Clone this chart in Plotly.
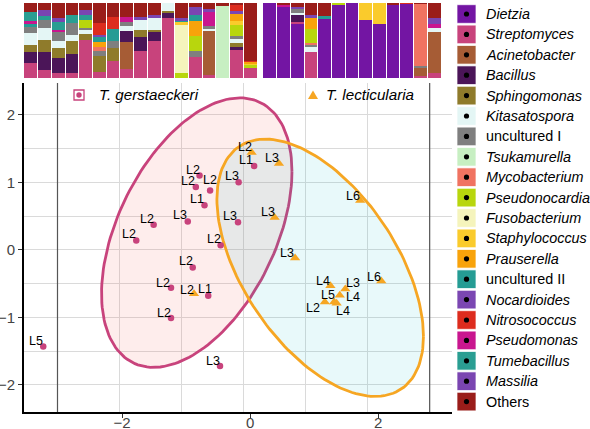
import numpy as np
import plotly.graph_objects as go

W, H = 590, 429
FONT = "Liberation Sans, Arial, Helvetica, sans-serif"

# ---------------- bar data (relative abundance, %) ----------------
GROUP1_SAMPLES = [f"G{i:02d}" for i in range(1, 18)]   # T. gerstaeckeri
GROUP2_SAMPLES = [f"L{i:02d}" for i in range(1, 14)]   # T. lecticularia
SAMPLES = GROUP1_SAMPLES + GROUP2_SAMPLES

TAXA = ["Dietzia", "Streptomyces", "Acinetobacter", "Bacillus", "Sphingomonas",
        "Kitasatospora", "uncultured I", "Tsukamurella", "Mycobacterium",
        "Pseudonocardia", "Fusobacterium", "Staphylococcus", "Prauserella",
        "uncultured II", "Nocardioides", "Nitrosococcus", "Pseudomonas",
        "Tumebacillus", "Massilia", "Others"]
TAXA_ITALIC = [True, True, True, True, True, True, False, True, True, True,
               True, True, True, False, True, True, True, True, True, False]
TAXA_COLORS = ["#7315A3", "#C8437C", "#A65C35", "#4B1558", "#8F7B2B",
               "#E4F6F5", "#7F7F7F", "#C7EFC2", "#F07361", "#B8D60D",
               "#F5F4BC", "#FACB2C", "#F8A30B", "#259C94", "#7B47B2",
               "#DD2C1E", "#C9168F", "#2A9E92", "#7A45B1", "#9A1D1A"]

# sample number (1..30) -> percentage
DIETZIA = {18: 100, 19: 95.5, 20: 72, 22: 79.6, 23: 98.5, 24: 100, 25: 77.8,
           26: 72.4, 27: 96.9, 28: 98.7}
STREPTOMYCES = {1: 19.6, 2: 10.7, 3: 6.2, 4: 7.1, 5: 50.7, 6: 8.4, 7: 22.7,
                8: 12.0, 9: 36.4, 10: 49.3, 11: 79.6, 13: 27.6, 14: 4.0,
                16: 37.3, 17: 13.8, 20: 1.8, 21: 35.1, 29: 2.7, 30: 7.1}
ACINETOBACTER = {8: 36.4, 14: 56.9, 29: 10.2, 30: 53.8}
BACILLUS = {1: 14.7, 2: 24.4, 3: 20.9, 4: 24.4, 8: 13.3, 9: 17.3, 10: 11.6,
            11: 7.6, 16: 3.6, 20: 10.2}
SPHINGOMONAS = {1: 9.8, 2: 14.7, 3: 12.4, 4: 17.8, 5: 8.0, 6: 20.9, 7: 16.9,
                9: 9.3, 10: 3.1, 11: 2.2, 16: 6.2}
KITASATOSPORA = {1: 15.6, 2: 16.4, 3: 8.9, 4: 7.1, 5: 6.2, 8: 7.6, 9: 13.3,
                 10: 15.6, 11: 10.2, 14: 3.6, 16: 4.4, 20: 2.2, 21: 6.7, 30: 5.3}
UNCULTURED_I = {1: 7.6, 2: 11.1, 3: 13.3, 4: 16.4, 5: 1.4, 6: 7.1, 7: 8.9,
                8: 4.4, 13: 7.6, 14: 3.1, 16: 3.6, 20: 5.3, 21: 2.2, 29: 3.6}
TSUKAMURELLA = {15: 95.1}
MYCOBACTERIUM = {6: 5.3, 21: 3.1, 29: 82.2}
PSEUDONOCARDIA = {5: 10.2, 12: 7.1, 13: 20.9, 16: 15.6, 17: 3.6, 21: 18.2, 23: 1.5}
FUSOBACTERIUM = {12: 63.6}
STAPHYLOCOCCUS = {12: 4.4, 16: 4.4, 17: 2.2, 25: 22.2, 26: 27.6}
PRAUSERELLA = {6: 6.7, 13: 19.1, 16: 10.2, 17: 1.8, 21: 14.2}
UNCULTURED_II = {1: 4.4, 6: 5.8, 7: 16.4, 12: 1.3, 13: 8.9, 22: 2.2}
NOCARDIOIDES = {6: 3.1, 16: 3.1, 20: 2.7, 21: 4.4}
NITROSOCOCCUS = {6: 15.6, 7: 16.0, 16: 8.0, 17: 1.3, 28: 1.3}
PSEUDOMONAS = {1: 3.6, 3: 2.2, 8: 7.1, 14: 19.1, 19: 1.8, 30: 5.8}
TUMEBACILLUS = {1: 12.0, 2: 4.4, 3: 10.2, 4: 11.1, 5: 6.7}
MASSILIA = {2: 8.0, 3: 5.3, 5: 7.6, 9: 4.4, 10: 3.6, 12: 3.6, 13: 10.2, 14: 3.1, 30: 7.6}
OTHERS = {1: 12.4, 2: 9.8, 3: 20.0, 4: 15.6, 5: 8.9, 6: 26.7, 7: 18.7, 8: 18.7,
          9: 18.7, 10: 16.4, 12: 20.0, 13: 5.3, 14: 8.0, 15: 4.4, 16: 3.1,
          17: 76.9, 19: 2.7, 20: 5.3, 21: 15.6, 22: 17.8, 27: 3.1, 29: 0.9, 30: 20.0}

TAXA_DATA = [DIETZIA, STREPTOMYCES, ACINETOBACTER, BACILLUS, SPHINGOMONAS,
             KITASATOSPORA, UNCULTURED_I, TSUKAMURELLA, MYCOBACTERIUM,
             PSEUDONOCARDIA, FUSOBACTERIUM, STAPHYLOCOCCUS, PRAUSERELLA,
             UNCULTURED_II, NOCARDIOIDES, NITROSOCOCCUS, PSEUDOMONAS,
             TUMEBACILLUS, MASSILIA, OTHERS]

# ---------------- ordination data ----------------
GER_X = [0.17, -0.71, -0.77, -0.54, -0.08, -0.63, -1.45, -0.90, -0.09, -1.73,
         -0.37, -0.82, -1.17, -0.57, -1.17, -3.23, -0.38]
GER_Y = [1.24, 1.10, 0.93, 0.88, 1.00, 0.66, 0.37, 0.42, 0.41, 0.14,
         0.07, -0.26, -0.56, -0.68, -1.01, -1.43, -1.72]
GER_LAB = ["L1", "L2", "L2", "L2", "L3", "L1", "L2", "L3", "L3", "L2",
           "L2", "L2", "L2", "L1", "L2", "L5", "L3"]

LEC_X = [0.13, 0.57, 0.50, 0.83, 1.88, 2.22, 1.40, 1.64, 1.55, 1.31, 1.46, 1.50, -0.80]
LEC_Y = [1.44, 1.28, 0.48, -0.12, 0.73, -0.46, -0.53, -0.58, -0.67, -0.77, -0.77, -0.79, -0.65]
LEC_LAB = ["L2", "L3", "L3", "L3", "L6", "L6", "L4", "L3", "L4", "L2", "L4", "L5", "L2"]

# x tick labels as they sit under the panel (slightly offset from the grid)
X_TICK_POS = [-1.96, 0.105, 2.17]
X_TICK_TEXT = ["\u22122", "0", "2"]

# 95% confidence ellipses: centre and shape matrix
GER_ELLIPSE_CENTER = [-0.755, 0.255]
GER_ELLIPSE_SHAPE = [[2.356, 1.387], [1.387, 3.980]]
LEC_ELLIPSE_CENTER = [1.235, -0.265]
LEC_ELLIPSE_SHAPE = [[2.772, -1.690], [-1.690, 3.629]]

# label offsets (screen px, + right / + down), repel-like placement
GER_OFF = [(-8, -6), (-7, -6), (-8, -6), (0, -10), (-7, -6), (-8, -6), (-7, -6),
           (-8, -6), (-8, -6), (-7, -6), (-7, -6), (-7, -6), (-8, -5), (-3, -7),
           (-7, -5), (-7, -5), (-7, -5)]
LEC_OFF = [(-7, -6), (-7, -5), (-7, -5), (-8, -5), (-7, -5), (-7, -4), (-7, -5),
           (8, -6), (13, 2), (-12, 6), (9, 9), (-9, -8), (-7, -4)]

PINK = "#C8437C"
ORANGE = "#F6A623"


def ellipse_path(center, shape, segments=160):
    ang = np.linspace(0, 2 * np.pi, segments + 1)
    circ = np.column_stack([np.cos(ang), np.sin(ang)])
    R = np.linalg.cholesky(np.array(shape)).T
    e = np.array(center) + circ @ R
    return e[:, 0], e[:, 1]


def sample_matrix():
    M = np.zeros((len(TAXA), len(SAMPLES)))
    for i, d in enumerate(TAXA_DATA):
        for k, v in d.items():
            M[i, k - 1] = v
    return M / M.sum(axis=0, keepdims=True) * 100


fig = go.Figure()

# ---------------- stacked bars ----------------
M = sample_matrix()
n1 = len(GROUP1_SAMPLES)
for i, taxon in enumerate(TAXA):
    fig.add_trace(go.Bar(x=GROUP1_SAMPLES, y=M[i, :n1], marker=dict(color=TAXA_COLORS[i], line=dict(width=0)),
                         xaxis="x2", yaxis="y2", showlegend=False, name=taxon, hoverinfo="skip"))
    fig.add_trace(go.Bar(x=GROUP2_SAMPLES, y=M[i, n1:], marker=dict(color=TAXA_COLORS[i], line=dict(width=0)),
                         xaxis="x3", yaxis="y2", showlegend=False, name=taxon, hoverinfo="skip"))

# ---------------- ellipses ----------------
for c, s, lc, fc in [(GER_ELLIPSE_CENTER, GER_ELLIPSE_SHAPE, PINK, "rgba(248,118,109,0.13)"),
                     (LEC_ELLIPSE_CENTER, LEC_ELLIPSE_SHAPE, ORANGE, "rgba(0,191,196,0.09)")]:
    ex, ey = ellipse_path(c, s)
    fig.add_trace(go.Scatter(x=ex, y=ey, mode="lines", fill="toself", fillcolor=fc,
                             line=dict(color=lc, width=2.8), hoverinfo="skip",
                             showlegend=False, xaxis="x", yaxis="y"))

# ---------------- points ----------------
fig.add_trace(go.Scatter(x=GER_X, y=GER_Y, mode="markers",
                         marker=dict(symbol="circle", size=6.5, color=PINK),
                         showlegend=False, xaxis="x", yaxis="y"))
fig.add_trace(go.Scatter(x=LEC_X, y=LEC_Y, mode="markers",
                         marker=dict(symbol="triangle-up", size=9, color=ORANGE),
                         showlegend=False, xaxis="x", yaxis="y"))

annotations = []
for xs, ys, labs, offs in [(GER_X, GER_Y, GER_LAB, GER_OFF), (LEC_X, LEC_Y, LEC_LAB, LEC_OFF)]:
    for x, y, t, (dx, dy) in zip(xs, ys, labs, offs):
        annotations.append(dict(x=x, y=y, xref="x", yref="y", text=t, showarrow=False,
                                xshift=dx, yshift=-dy, xanchor="center", yanchor="middle",
                                font=dict(family=FONT, size=12.5, color="black")))


def px(xp):
    return xp / W


def py(yp):
    return 1 - yp / H


shapes = []
# dark frame lines at x = -3 and 3
for xv in (-3, 3):
    shapes.append(dict(type="line", xref="x", yref="paper", x0=xv, x1=xv,
                       y0=py(412), y1=py(83), line=dict(color="#555555", width=1.2),
                       layer="above"))

# right legend
LEG_X0, LEG_X1, LEG_TOP, LEG_STEP = 457, 476, 14, 20.4
for i, taxon in enumerate(TAXA):
    cy = LEG_TOP + LEG_STEP * i
    shapes.append(dict(type="rect", xref="paper", yref="paper",
                       x0=px(LEG_X0), x1=px(LEG_X1), y0=py(cy + 9.3), y1=py(cy - 9.3),
                       fillcolor=TAXA_COLORS[i], line=dict(color="rgba(255,255,255,0.9)", width=0.8)))
    cx = (LEG_X0 + LEG_X1) / 2
    shapes.append(dict(type="circle", xref="paper", yref="paper",
                       x0=px(cx - 2.6), x1=px(cx + 2.6), y0=py(cy + 2.6), y1=py(cy - 2.6),
                       fillcolor="black", line=dict(width=0)))
    txt = f"<i>{taxon}</i>" if TAXA_ITALIC[i] else taxon
    annotations.append(dict(x=px(484), y=py(cy), xref="paper", yref="paper", text=txt,
                            showarrow=False, xanchor="left", yanchor="middle",
                            font=dict(family=FONT, size=14.4, color="black")))

# group legend inside the ordination panel
shapes.append(dict(type="rect", xref="paper", yref="paper", x0=px(74), x1=px(84),
                   y0=py(100), y1=py(90), line=dict(color=PINK, width=1.3)))
shapes.append(dict(type="circle", xref="paper", yref="paper", x0=px(76.3), x1=px(81.7),
                   y0=py(97.7), y1=py(92.3), fillcolor=PINK, line=dict(width=0)))
annotations.append(dict(x=px(97), y=py(95), xref="paper", yref="paper",
                        text="<i>T. gerstaeckeri</i>", showarrow=False, xanchor="left",
                        yanchor="middle", font=dict(family=FONT, size=15.2, color="black")))
tx, ty = 313, 95
shapes.append(dict(type="path", xref="paper", yref="paper",
                   path=f"M {px(tx)} {py(ty - 4.5)} L {px(tx + 5)} {py(ty + 4)} L {px(tx - 5)} {py(ty + 4)} Z",
                   fillcolor=ORANGE, line=dict(width=0)))
annotations.append(dict(x=px(324), y=py(95), xref="paper", yref="paper",
                        text="<i>T. lecticularia</i>", showarrow=False, xanchor="left",
                        yanchor="middle", font=dict(family=FONT, size=15.2, color="black")))

GRID = "#DADADA"
fig.update_layout(
    width=W, height=H, margin=dict(l=0, r=0, t=0, b=0, autoexpand=False),
    paper_bgcolor="white", plot_bgcolor="white",
    barmode="stack", bargap=0.07,
    showlegend=False,
    font=dict(family=FONT),
    xaxis=dict(domain=[px(24), px(452)], range=[-3.54, 3.36], anchor="y", automargin=False,
               tickmode="array", tickvals=X_TICK_POS, ticktext=X_TICK_TEXT, showgrid=False,
               minor=dict(tickmode="linear", tick0=0, dtick=1, showgrid=True, gridcolor=GRID, gridwidth=1),
               zeroline=False, showline=True, linecolor="black", linewidth=1.6,
               ticks="outside", ticklen=4, tickwidth=1.2, tickcolor="#333333",
               ticklabelstandoff=-8,
               tickfont=dict(size=15, color="#444444", family=FONT)),
    yaxis=dict(domain=[py(412), py(83)], range=[-2.40, 2.47], anchor="x", automargin=False,
               tick0=0, dtick=1, showgrid=True, gridcolor=GRID, gridwidth=1,
               minor=dict(tick0=0, dtick=0.5, showgrid=True, gridcolor=GRID, gridwidth=1),
               zeroline=False, showline=True, linecolor="black", linewidth=1.6,
               ticks="outside", ticklen=4, tickwidth=1.2, tickcolor="#333333",
               tickfont=dict(size=15, color="#444444", family=FONT)),
    xaxis2=dict(domain=[px(24), px(257)], anchor="y2", type="category", visible=False, automargin=False),
    xaxis3=dict(domain=[px(263), px(441)], anchor="y2", type="category", visible=False, automargin=False),
    yaxis2=dict(domain=[py(78), py(3)], range=[0, 100], anchor="x2", visible=False, automargin=False),
    shapes=shapes, annotations=annotations,
)

fig.write_html("out.html", config={"displayModeBar": False},
               post_script="document.body.style.margin='0';document.body.style.padding='0';")
